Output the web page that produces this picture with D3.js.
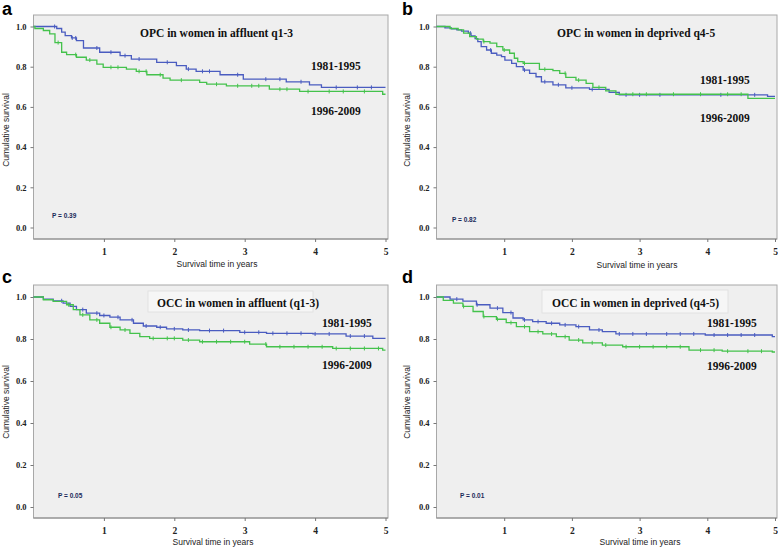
<!DOCTYPE html>
<html>
<head>
<meta charset="utf-8">
<script src="https://cdn.jsdelivr.net/npm/d3@7"></script>
<style>
  body { margin: 0; background: #fff; }
  svg { display: block; }
</style>
</head>
<body>
<div id="chart"></div>
<script>
// Kaplan-Meier steps, [years, cumulative survival]
const opcAffluentEarly = [[0,1],[0.33,0.99],[0.40,0.972],[0.45,0.955],[0.54,0.943],[0.61,0.93],[0.71,0.893],[0.94,0.872],[1.23,0.855],[1.39,0.838],[1.75,0.822],[2.03,0.805],[2.17,0.788],[2.31,0.777],[2.65,0.76],[2.98,0.738],[3.59,0.725],[3.92,0.71],[4.09,0.697],[5,0.697]];
const opcAffluentLate = [[0,1],[0.02,0.99],[0.14,0.98],[0.23,0.963],[0.305,0.92],[0.40,0.872],[0.47,0.86],[0.61,0.847],[0.75,0.833],[0.90,0.813],[0.99,0.797],[1.32,0.788],[1.46,0.777],[1.61,0.76],[1.84,0.743],[1.94,0.733],[2.36,0.722],[2.46,0.713],[2.74,0.705],[3.35,0.688],[3.78,0.677],[4.96,0.663],[5,0.663]];
const opcDeprivedEarly = [[0,1],[0.125,0.993],[0.22,0.988],[0.30,0.983],[0.37,0.977],[0.47,0.967],[0.51,0.953],[0.57,0.94],[0.61,0.925],[0.66,0.9],[0.74,0.883],[0.81,0.867],[0.89,0.858],[0.96,0.85],[1.01,0.833],[1.11,0.817],[1.18,0.8],[1.28,0.783],[1.375,0.767],[1.47,0.75],[1.55,0.725],[1.72,0.71],[1.91,0.695],[2.26,0.687],[2.55,0.672],[2.70,0.66],[4.89,0.652],[5,0.652]];
const opcDeprivedLate = [[0,1],[0.2,0.99],[0.32,0.983],[0.40,0.967],[0.49,0.95],[0.59,0.937],[0.69,0.925],[0.79,0.917],[0.89,0.9],[0.98,0.883],[1.08,0.867],[1.15,0.842],[1.2,0.825],[1.28,0.817],[1.52,0.787],[1.72,0.78],[1.82,0.767],[1.91,0.747],[2.06,0.733],[2.21,0.717],[2.31,0.697],[2.5,0.68],[2.65,0.663],[4.6,0.642],[5,0.642]];
const occAffluentEarly = [[0,1],[0.14,0.99],[0.28,0.982],[0.42,0.971],[0.52,0.955],[0.61,0.94],[0.75,0.923],[0.94,0.912],[1.085,0.904],[1.23,0.891],[1.42,0.875],[1.56,0.862],[1.75,0.856],[1.89,0.848],[2.12,0.843],[2.36,0.84],[2.93,0.832],[3.31,0.827],[3.97,0.824],[4.44,0.814],[4.82,0.803],[5,0.803]];
const occAffluentLate = [[0,1],[0.14,0.987],[0.28,0.979],[0.47,0.963],[0.565,0.94],[0.66,0.915],[0.80,0.891],[0.94,0.875],[1.085,0.856],[1.23,0.843],[1.37,0.827],[1.51,0.811],[1.65,0.803],[2.12,0.795],[2.36,0.787],[3.07,0.776],[3.31,0.763],[4.25,0.755],[4.96,0.747],[5,0.747]];
const occDeprivedEarly = [[0,1],[0.2,0.99],[0.39,0.98],[0.59,0.963],[0.79,0.947],[0.98,0.926],[1.13,0.9],[1.28,0.891],[1.42,0.883],[1.62,0.875],[1.82,0.867],[2.06,0.859],[2.26,0.843],[2.45,0.835],[2.65,0.824],[3.97,0.819],[4.96,0.811],[5,0.811]];
const occDeprivedLate = [[0,1],[0.10,0.984],[0.25,0.971],[0.39,0.955],[0.54,0.931],[0.69,0.907],[0.885,0.894],[1.03,0.878],[1.18,0.859],[1.375,0.835],[1.57,0.824],[1.77,0.811],[1.96,0.795],[2.16,0.782],[2.45,0.771],[2.75,0.763],[3.73,0.747],[4.22,0.742],[4.96,0.738],[5,0.738]];

// censored observations (years)
const opcAffluentEarlyCens = [0.3,0.55,0.6,0.9,1.1,1.3,1.5,1.9,2.2,2.4,2.5,2.9,3.3,3.5,3.8,4.3,4.6,4.8];
const opcAffluentLateCens = [0.35,0.6,0.8,1.1,1.2,1.5,1.6,1.8,2.1,2.6,2.9,3.1,3.2,3.5,3.6,3.9,4.2,4.4,4.7];
const opcDeprivedEarlyCens = [0.5,0.8,1.3,1.6,1.8,2.0,2.3,2.8,3.0,3.3,4.2,4.7];
const opcDeprivedLateCens = [0.7,1.0,1.3,1.6,1.9,2.1,2.4,2.9,3.1,3.5,3.9,4.3,4.5];
const occAffluentEarlyCens = [0.4,0.7,0.9,1.0,1.2,1.4,1.6,1.8,2.0,2.2,2.5,2.7,3.0,3.2,3.4,3.6,3.8,4.0,4.2,4.5,4.7];
const occAffluentLateCens = [0.5,0.7,0.9,1.1,1.3,1.7,1.9,2.0,2.2,2.4,2.6,2.8,3.0,3.3,3.5,3.7,3.9,4.1,4.3,4.5,4.7,4.9];
const occDeprivedEarlyCens = [0.3,0.6,0.9,1.1,1.3,1.5,1.7,1.9,2.1,2.4,2.7,2.9,3.1,3.4,3.6,3.8,4.1,4.3,4.5,4.7];
const occDeprivedLateCens = [0.4,0.7,0.9,1.1,1.3,1.5,1.7,1.9,2.1,2.3,2.5,2.8,3.0,3.2,3.4,3.6,3.9,4.1,4.3,4.6,4.8];

const yearTicks = [1, 2, 3, 4, 5];
const survivalTicks = [0, 0.2, 0.4, 0.6, 0.8, 1.0];
const periods = ["1981-1995", "1996-2009"];
const panelLetters = ["a", "b", "c", "d"];
const panelTitles = ["OPC in women in affluent q1-3", "OPC in women in deprived q4-5", "OCC in women in affluent (q1-3)", "OCC in women in deprived (q4-5)"];
const pValues = ["P = 0.39", "P = 0.82", "P = 0.05", "P = 0.01"];

const BLUE = "#4a5cc0", GREEN = "#44c24c";

// layout of each panel in page pixels
const panels = [
  { x0: 33.5, x5: 385.5, fr: 388, ft: 15, fb: 239, y0: 227.5, y1: 26.5,
    early: opcAffluentEarly, late: opcAffluentLate, ec: opcAffluentEarlyCens, lc: opcAffluentLateCens,
    titleX: 140, titleY: 37, box: false, labX: 311, labY: [70, 115], pX: 52, pY: 218, ylabX: 9, ylabY: 130, xlabX: 217, xlabY: 267, letX: 2, letY: 15 },
  { x0: 436.5, x5: 775, fr: 777, ft: 15, fb: 239, y0: 227.5, y1: 26.5,
    early: opcDeprivedEarly, late: opcDeprivedLate, ec: opcDeprivedEarlyCens, lc: opcDeprivedLateCens,
    titleX: 557, titleY: 37, box: false, labX: 700, labY: [84, 122], pX: 452, pY: 222, ylabX: 410, ylabY: 130, xlabX: 637, xlabY: 268, letX: 402, letY: 15 },
  { x0: 33.5, x5: 385.5, fr: 388, ft: 285, fb: 518, y0: 507, y1: 297,
    early: occAffluentEarly, late: occAffluentLate, ec: occAffluentEarlyCens, lc: occAffluentLateCens,
    titleX: 157, titleY: 307, box: [148, 291, 165, 21], labX: 322, labY: [327, 369], pX: 58, pY: 498, ylabX: 9, ylabY: 402, xlabX: 213, xlabY: 545, letX: 2, letY: 283 },
  { x0: 436.5, x5: 775, fr: 777, ft: 285, fb: 518, y0: 507, y1: 297,
    early: occDeprivedEarly, late: occDeprivedLate, ec: occDeprivedEarlyCens, lc: occDeprivedLateCens,
    titleX: 552, titleY: 307, box: [542, 290, 186, 23], labX: 707, labY: [327, 370], pX: 460, pY: 498, ylabX: 410, ylabY: 402, xlabX: 640, xlabY: 545, letX: 402, letY: 283 }
];

const svg = d3.select("#chart").append("svg").attr("width", 778).attr("height", 547);

function stepAt(steps, t) {
  let s = steps[0][1];
  for (const p of steps) { if (p[0] <= t) s = p[1]; }
  return s;
}

panels.forEach((p, i) => {
  const x = d3.scaleLinear().domain([0, 5]).range([p.x0, p.x5]);
  const y = d3.scaleLinear().domain([0, 1]).range([p.y0, p.y1]);
  const g = svg.append("g");

  g.append("rect").attr("x", p.x0).attr("y", p.ft).attr("width", p.fr - p.x0).attr("height", p.fb - p.ft)
    .attr("fill", "#efefef").attr("stroke", "#a8a8a8").attr("stroke-width", 1);

  if (p.box) {
    g.append("rect").attr("x", p.box[0]).attr("y", p.box[1]).attr("width", p.box[2]).attr("height", p.box[3])
      .attr("fill", "#f6f6f6").attr("stroke", "#e2e2e2");
  }

  // y axis
  const yAxis = g.append("g").attr("transform", `translate(${p.x0},0)`)
    .call(d3.axisLeft(y).tickValues(survivalTicks).tickFormat(d3.format(".1f")).tickSize(3).tickPadding(4));
  yAxis.select(".domain").remove();
  yAxis.selectAll("line").attr("stroke", "#777");
  yAxis.selectAll("text").attr("font-family", "Liberation Serif, serif").attr("font-weight", "bold")
    .attr("font-size", 8.5).attr("fill", "#222");

  // x axis
  const xAxis = g.append("g").attr("transform", `translate(0,${p.fb})`)
    .call(d3.axisBottom(x).tickValues(yearTicks).tickFormat(d3.format("d")).tickSize(3).tickPadding(6));
  xAxis.select(".domain").attr("stroke", "#888").attr("d", `M${p.x0},0H${p.fr}`);
  xAxis.selectAll("line").attr("stroke", "#777");
  xAxis.selectAll("text").attr("font-family", "Liberation Serif, serif").attr("font-weight", "bold")
    .attr("font-size", 9.5).attr("fill", "#222");

  const line = d3.line().x(d => x(d[0])).y(d => y(d[1])).curve(d3.curveStepAfter);
  [[p.early, p.ec, BLUE], [p.late, p.lc, GREEN]].forEach(([steps, cens, col]) => {
    g.append("path").datum(steps).attr("d", line).attr("fill", "none").attr("stroke", col).attr("stroke-width", 1.3);
    g.selectAll(null).data(cens).enter().append("line")
      .attr("x1", d => x(d)).attr("x2", d => x(d))
      .attr("y1", d => y(stepAt(steps, d)) - 2).attr("y2", d => y(stepAt(steps, d)) + 2)
      .attr("stroke", col).attr("stroke-width", 1);
  });

  g.append("text").attr("x", p.titleX).attr("y", p.titleY).text(panelTitles[i])
    .attr("font-family", "Liberation Serif, serif").attr("font-weight", "bold").attr("font-size", 11.5).attr("fill", "#111");

  periods.forEach((lab, k) => {
    g.append("text").attr("x", p.labX).attr("y", p.labY[k]).text(lab)
      .attr("font-family", "Liberation Serif, serif").attr("font-weight", "bold").attr("font-size", 11.5).attr("fill", "#111");
  });

  g.append("text").attr("x", p.pX).attr("y", p.pY).text(pValues[i])
    .attr("font-family", "Liberation Sans, Arial, sans-serif").attr("font-weight", "bold").attr("font-size", 6.5).attr("fill", "#1a2a5a");

  g.append("text").attr("transform", `translate(${p.ylabX},${p.ylabY}) rotate(-90)`).attr("text-anchor", "middle")
    .text("Cumulative survival").attr("font-family", "Liberation Sans, Arial, sans-serif").attr("font-size", 8.5).attr("fill", "#222");

  g.append("text").attr("x", p.xlabX).attr("y", p.xlabY).attr("text-anchor", "middle")
    .text("Survival time in years").attr("font-family", "Liberation Sans, Arial, sans-serif").attr("font-size", 8.5).attr("fill", "#222");

  g.append("text").attr("x", p.letX).attr("y", p.letY).text(panelLetters[i])
    .attr("font-family", "Liberation Sans, Arial, sans-serif").attr("font-weight", "bold").attr("font-size", 18).attr("fill", "#000");
});
</script>
</body>
</html>
